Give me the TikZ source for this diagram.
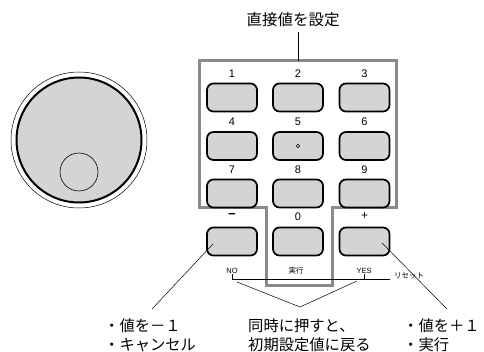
\documentclass[tikz,border=0pt]{standalone}
\usepackage{fontspec}
\setmainfont{Liberation Sans}
\newfontfamily\jp{Noto Sans CJK JP}
\definecolor{btngray}{HTML}{D4D4D4}
\definecolor{framegray}{HTML}{8A8A8A}
\tikzset{
  btn/.style={draw=black, line width=1.7pt, fill=btngray, rounded corners=6.5pt, minimum width=50pt, minimum height=28pt, inner sep=0pt},
  num/.style={font=\fontsize{11}{12}\selectfont, inner sep=0pt},
  small/.style={font=\fontsize{7.5}{8}\selectfont, inner sep=0pt},
  smalljp/.style={font=\jp\fontsize{7.5}{8}\selectfont, inner sep=0pt},
  lab/.style={font=\jp\fontsize{15.3}{18.5}\selectfont, inner sep=0pt, align=left, anchor=north west},
  thin/.style={line width=0.5pt, draw=black}
}
\begin{document}
\begin{tikzpicture}[x=1pt,y=-1pt]
\useasboundingbox (0,0) rectangle (484,352);
% dial
\node[circle, draw=black, line width=0.5pt, minimum size=136pt, inner sep=0pt] (dialout) at (79,140) {};
\node[circle, draw=black, line width=2pt, fill=btngray, minimum size=125pt, inner sep=0pt] (dial) at (79,140) {};
\node[circle, draw=black, line width=0.6pt, minimum size=38pt, inner sep=0pt] (knob) at (79,172) {};
% frame
\draw[framegray, line width=3pt, line join=miter]
  (199,61) -- (396,61) -- (396,208) -- (332,208) -- (332,286) -- (266,286) -- (266,208) -- (199,208) -- cycle;
% header
\node[font=\jp\fontsize{15.5}{18}\selectfont, inner sep=0pt] (hdr) at (293,20) {直接値を設定};
\coordinate (ftop) at (298,61);
\draw[line width=0.7pt] (hdr.south -| ftop) ++(0,5) -- (ftop);
% buttons
\node[btn] (b1) at (232,97.5) {};
\node[btn] (b2) at (298,97.5) {};
\node[btn] (b3) at (364.5,97.5) {};
\node[btn] (b4) at (232,146) {};
\node[btn] (b5) at (298,146) {};
\node[btn] (b6) at (364.5,146) {};
\node[btn] (b7) at (232,193.5) {};
\node[btn] (b8) at (298,193.5) {};
\node[btn] (b9) at (364.5,193.5) {};
\node[btn] (bm) at (232,241.5) {};
\node[btn] (b0) at (298,241.5) {};
\node[btn] (bp) at (364.5,241.5) {};
\node[circle, draw=black, line width=0.5pt, minimum size=3.5pt, inner sep=0pt] (dot) at (b5.center) {};
% numbers
\node[num] (l1) at (232,74) {1};
\node[num] (l2) at (298,74) {2};
\node[num] (l3) at (364.5,74) {3};
\node[num] (l4) at (232,122) {4};
\node[num] (l5) at (298,122) {5};
\node[num] (l6) at (364.5,122) {6};
\node[num] (l7) at (232,169.5) {7};
\node[num] (l8) at (298,169.5) {8};
\node[num] (l9) at (364.5,169.5) {9};
\node[num, font=\bfseries\fontsize{13}{14}\selectfont] (lm) at (232,216) {−};
\node[num] (l0) at (298,216.5) {0};
\node[num, font=\fontsize{12}{13}\selectfont] (lp) at (364.5,216) {+};
% bottom small labels
\node[small] (no) at (232,271) {NO};
\node[smalljp] (jk) at (296,271) {実行};
\node[small] (yes) at (364,271) {YES};
\node[smalljp, anchor=west] (reset) at (394,276) {リセット};
\coordinate (lnL) at (232,279);
\coordinate (lnR) at (390,279);
\coordinate (tkN) at (232,274.5);
\coordinate (tkY) at (364,274.5);
\draw[thin] (lnL) -- (lnR);
\draw[thin] (tkN) -- (lnL);
\draw[thin] (tkY) -- (tkY |- lnL);
% converging lines
\coordinate (cA) at (237,282);
\coordinate (cB) at (357,281);
\coordinate (cM) at (300,307);
\draw[thin] (cA) -- (cM) -- (cB);
% diagonal pointers
\coordinate (mS) at (213,244);
\coordinate (mE) at (152,309);
\coordinate (pS) at (382,243);
\coordinate (pE) at (447,309);
\draw[thin] (mS) -- (mE);
\draw[thin] (pS) -- (pE);
% texts
\node[lab] (tl) at (104,318.5) {・値を－１\\・キャンセル};
\node[lab] (tm) at (248,318.5) {同時に押すと、\\初期設定値に戻る};
\node[lab] (tr) at (403,318.5) {・値を＋１\\・実行};
\end{tikzpicture}
\end{document}
